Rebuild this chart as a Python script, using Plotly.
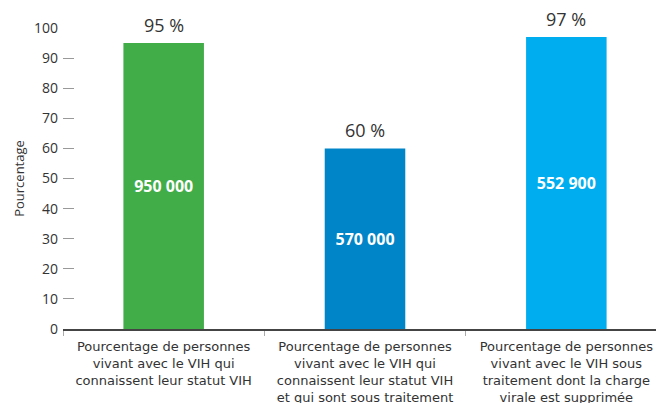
import plotly.graph_objects as go

categories = [
    "Pourcentage de personnes<br>vivant avec le VIH qui<br>connaissent leur statut VIH",
    "Pourcentage de personnes<br>vivant avec le VIH qui<br>connaissent leur statut VIH<br>et qui sont sous traitement",
    "Pourcentage de personnes<br>vivant avec le VIH sous<br>traitement dont la charge<br>virale est supprimée",
]
percentages = [95, 60, 97]
counts = ["950 000", "570 000", "552 900"]
top_labels = ["95 %", "60 %", "97 %"]
colors = ["#41AD49", "#0085C8", "#00AEEF"]
y_ticks = [0, 10, 20, 30, 40, 50, 60, 70, 80, 90, 100]

FONT = "Open Sans, sans-serif"
XFONT = "DejaVu Sans, sans-serif"

fig = go.Figure()
fig.add_trace(go.Bar(
    x=categories,
    y=percentages,
    marker=dict(color=colors, line=dict(width=0)),
    width=0.4,
    text=counts,
    textposition="inside",
    insidetextanchor="middle",
    textangle=0,
    textfont=dict(color="white", size=16, family=FONT, weight="bold"),
    hoverinfo="skip",
))

for cat, val, lab in zip(categories, percentages, top_labels):
    fig.add_annotation(
        x=cat, y=val, text=lab, showarrow=False,
        yanchor="bottom", yshift=4,
        font=dict(size=18, color="#333333", family=FONT),
    )

# page body adds an 8px offset; margins compensate for it
fig.update_layout(
    width=664, height=403,
    margin=dict(l=55, r=5, t=20, b=82),
    paper_bgcolor="white", plot_bgcolor="white",
    showlegend=False,
    font=dict(family=FONT, color="#333333"),
)
fig.update_xaxes(
    type="category",
    range=[-0.5, 2.5],
    automargin=False,
    showline=True, linecolor="#444444", linewidth=1.5,
    ticks="outside", tickson="boundaries", ticklen=5, tickcolor="#aaaaaa", tickwidth=1,
    ticklabelstandoff=5,
    tickfont=dict(size=13, color="#333333", family=XFONT),
    showgrid=False,
)
fig.update_yaxes(
    range=[0, 100],
    automargin=False,
    tickvals=y_ticks,
    ticks="inside", ticklen=11, tickcolor="#999999", tickwidth=1,
    ticklabelstandoff=4,
    showline=False, showgrid=False, zeroline=False,
    tickfont=dict(size=14, color="#333333", family=FONT),
    title=dict(text="Pourcentage", font=dict(size=13, color="#333333", family=FONT), standoff=6),
)

fig.write_html("out.html")
